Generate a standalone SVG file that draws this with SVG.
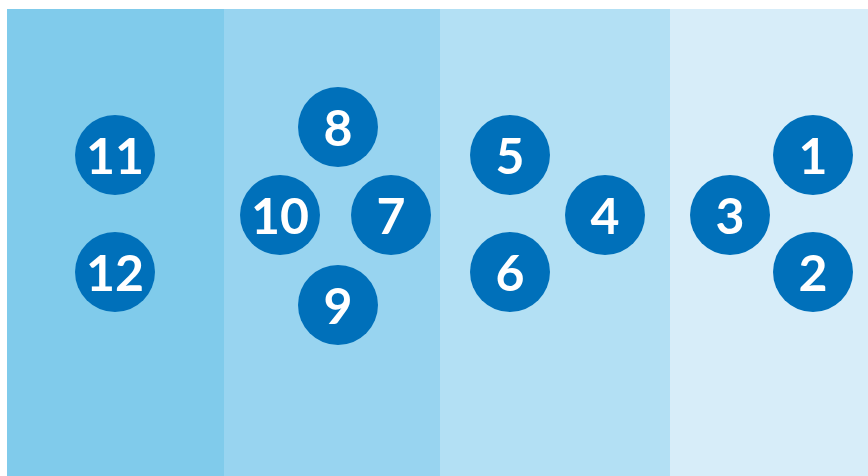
<svg xmlns="http://www.w3.org/2000/svg" width="868" height="476" viewBox="0 0 868 476">
<style>
.n circle{fill:#0070ba}
.n text{fill:#fff;font-family:Lato,"Liberation Sans",sans-serif;font-weight:700;font-size:50px;text-anchor:middle;dominant-baseline:central}
</style>
<rect width="868" height="476" fill="#fff"/>
<g id="panels">
<rect x="7" y="9" width="217" height="467" fill="#80cbeb"/>
<rect x="224" y="9" width="216" height="467" fill="#98d4f0"/>
<rect x="440" y="9" width="230" height="467" fill="#b3e0f4"/>
<rect x="670" y="9" width="198" height="467" fill="#d7edf9"/>
</g>
<g id="connectors"></g>
<g id="n11" class="n"><circle cx="115" cy="155" r="40"/><text x="115" y="155">11</text></g>
<g id="n12" class="n"><circle cx="115" cy="272" r="40"/><text x="115" y="272">12</text></g>
<g id="n8" class="n"><circle cx="338" cy="127" r="40"/><text x="338" y="127">8</text></g>
<g id="n10" class="n"><circle cx="280" cy="215" r="40"/><text x="280" y="215">10</text></g>
<g id="n7" class="n"><circle cx="391" cy="215" r="40"/><text x="391" y="215">7</text></g>
<g id="n9" class="n"><circle cx="338" cy="305" r="40"/><text x="338" y="305">9</text></g>
<g id="n5" class="n"><circle cx="510" cy="155" r="40"/><text x="510" y="155">5</text></g>
<g id="n6" class="n"><circle cx="510" cy="272" r="40"/><text x="510" y="272">6</text></g>
<g id="n4" class="n"><circle cx="605" cy="215" r="40"/><text x="605" y="215">4</text></g>
<g id="n3" class="n"><circle cx="730" cy="215" r="40"/><text x="730" y="215">3</text></g>
<g id="n1" class="n"><circle cx="813" cy="155" r="40"/><text x="813" y="155">1</text></g>
<g id="n2" class="n"><circle cx="813" cy="272" r="40"/><text x="813" y="272">2</text></g>
</svg>
